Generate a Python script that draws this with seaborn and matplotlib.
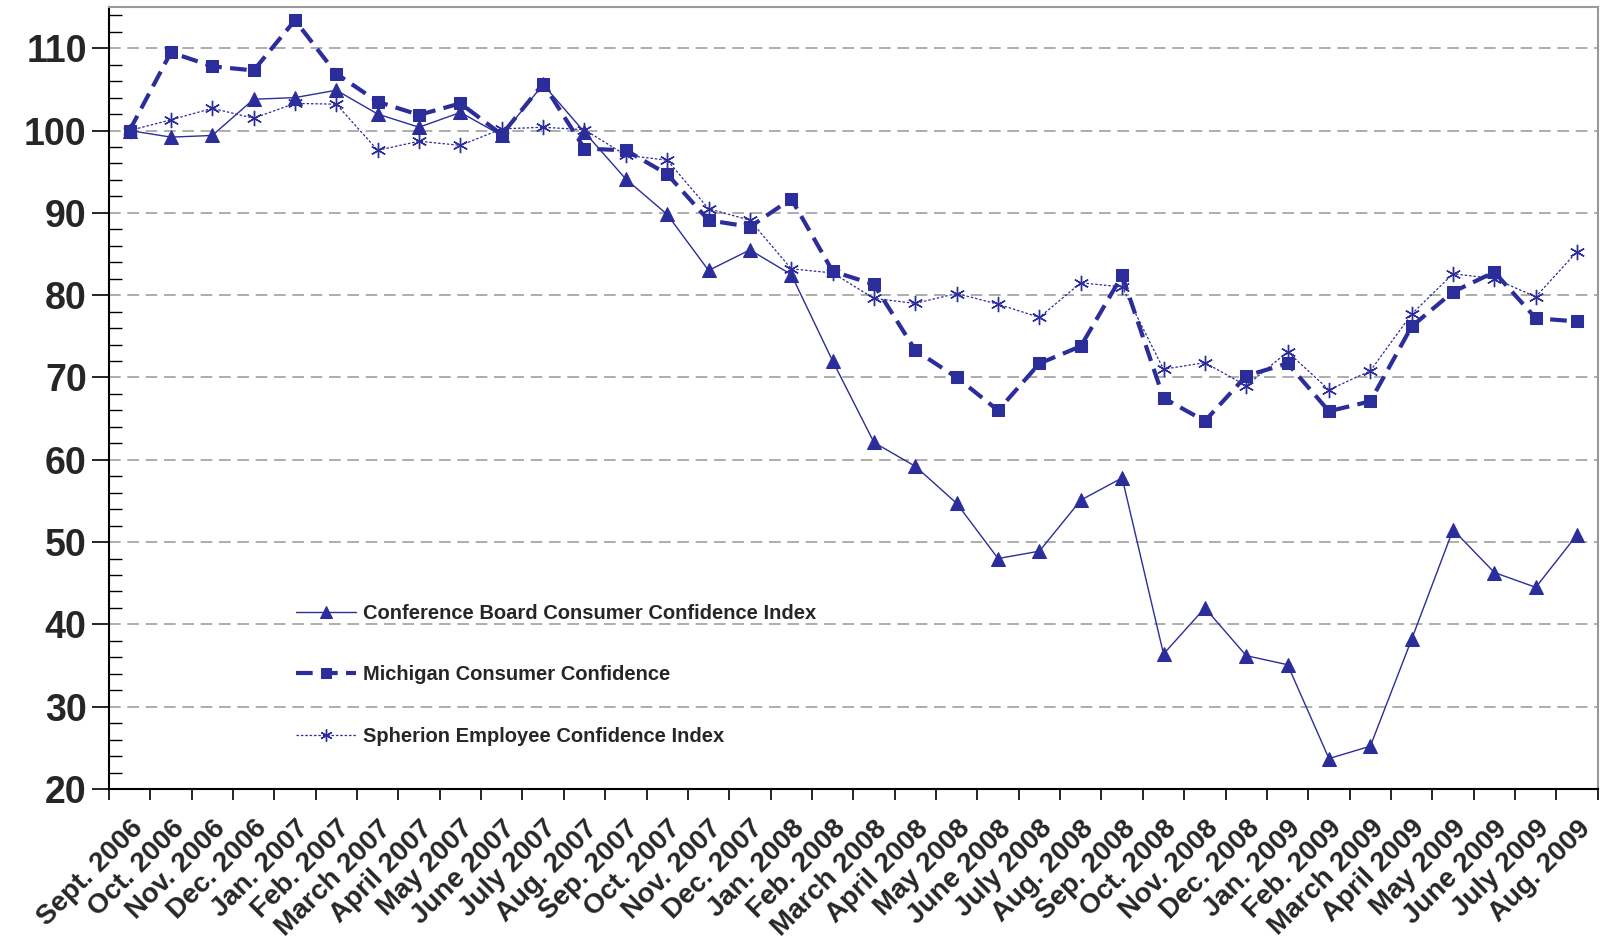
import matplotlib
matplotlib.use("Agg")
import matplotlib.pyplot as plt
from matplotlib.ticker import FixedLocator, MultipleLocator, NullFormatter
import seaborn as sns
import numpy as np

months = [
    "Sept. 2006", "Oct. 2006", "Nov. 2006", "Dec. 2006", "Jan. 2007", "Feb. 2007",
    "March 2007", "April 2007", "May 2007", "June 2007", "July 2007", "Aug. 2007",
    "Sep. 2007", "Oct. 2007", "Nov. 2007", "Dec. 2007", "Jan. 2008", "Feb. 2008",
    "March 2008", "April 2008", "May 2008", "June 2008", "July 2008", "Aug. 2008",
    "Sep. 2008", "Oct. 2008", "Nov. 2008", "Dec. 2008", "Jan. 2009", "Feb. 2009",
    "March 2009", "April 2009", "May 2009", "June 2009", "July 2009", "Aug. 2009",
]

conference_board = [
    100.0, 99.2, 99.4, 103.8, 104.0, 104.9, 102.0, 100.4, 102.2, 99.4, 105.6, 99.8,
    94.1, 89.8, 83.0, 85.5, 82.5, 72.0, 62.1, 59.2, 54.7, 48.0, 48.9, 55.1,
    57.8, 36.4, 42.0, 36.2, 35.1, 23.7, 25.2, 38.2, 51.5, 46.3, 44.5, 50.9,
]

michigan = [
    100.0, 109.5, 107.8, 107.3, 113.4, 106.9, 103.5, 101.9, 103.3, 99.5, 105.7, 97.8,
    97.6, 94.7, 89.1, 88.3, 91.7, 82.9, 81.3, 73.3, 70.0, 66.0, 71.7, 73.8,
    82.4, 67.5, 64.7, 70.2, 71.7, 65.9, 67.1, 76.2, 80.4, 82.8, 77.2, 76.8,
]

spherion = [
    100.0, 101.3, 102.7, 101.5, 103.3, 103.2, 97.6, 98.7, 98.2, 100.2, 100.4, 100.1,
    97.0, 96.4, 90.5, 89.1, 83.2, 82.7, 79.6, 79.0, 80.2, 78.9, 77.3, 81.5,
    81.0, 71.0, 71.8, 69.0, 73.1, 68.5, 70.8, 77.7, 82.6, 82.0, 79.8, 85.3,
]

series_names = [
    "Conference Board Consumer Confidence Index",
    "Michigan Consumer Confidence",
    "Spherion Employee Confidence Index",
]

sns.set_theme(style="white")
plt.rcParams["font.family"] = ["Liberation Sans", "DejaVu Sans"]

blue = "#2b2d9b"
fig = plt.figure(figsize=(16.01, 9.43), dpi=100)
ax = fig.add_axes([0.068, 0.1633, 0.930, 0.8292])

x = np.arange(len(months))

sns.lineplot(x=x, y=conference_board, ax=ax, color=blue, linewidth=1.0,
             linestyle="-", marker="^", markersize=10, markeredgecolor=blue,
             markerfacecolor=blue, label=series_names[0], sort=False)
sns.lineplot(x=x, y=michigan, ax=ax, color=blue, linewidth=3.0,
             dashes=False, marker="s", markersize=9, markeredgecolor=blue,
             markerfacecolor=blue, label=series_names[1], sort=False)
sns.lineplot(x=x, y=spherion, ax=ax, color=blue, linewidth=0.9,
             dashes=False, marker=(6, 2, 0), markersize=11, markeredgecolor=blue,
             markeredgewidth=1.0, label=series_names[2], sort=False)

lines = ax.get_lines()
lines[1].set_dashes([4, 2])
lines[2].set_dashes([2, 1.5])

ax.set_xlim(-0.5, len(months) - 0.5)
ax.set_ylim(20, 115)

# Category ticks sit between months; labels sit at month centres
ax.xaxis.set_major_locator(FixedLocator(np.arange(-0.5, len(months), 1.0)))
ax.xaxis.set_major_formatter(NullFormatter())
ax.xaxis.set_minor_locator(FixedLocator(x))
ax.set_xticklabels(months, minor=True, rotation=45, ha="right",
                   rotation_mode="anchor", fontsize=20, fontweight="bold")
ax.tick_params(axis="x", which="major", direction="out", length=8, width=1.2,
               color="black", bottom=True)
ax.tick_params(axis="x", which="minor", length=0, pad=19)

ax.yaxis.set_major_locator(MultipleLocator(10))
ax.yaxis.set_minor_locator(MultipleLocator(2))
ax.set_yticks(np.arange(20, 111, 10))
ax.set_yticklabels([str(v) for v in range(20, 111, 10)], fontsize=27,
                   fontweight="bold")
ax.tick_params(axis="y", which="major", direction="out", length=12, width=1.2,
               color="black", left=True, pad=4)
ax.tick_params(axis="y", which="minor", direction="in", length=9, width=1.0,
               color="black", left=True)

ax.yaxis.grid(True, which="major", color="#a0a0a0", linewidth=1.2,
              linestyle=(0, (7, 4)))
ax.xaxis.grid(False)
ax.set_axisbelow(True)

for side in ("left", "bottom"):
    ax.spines[side].set_color("black")
    ax.spines[side].set_linewidth(1.5)
for side in ("top", "right"):
    ax.spines[side].set_color("#999999")
    ax.spines[side].set_linewidth(1.5)

ax.set_xlabel("")
ax.set_ylabel("")

leg = ax.legend(loc="upper left", bbox_to_anchor=(296 / 1601, 1 - 604 / 943),
                bbox_transform=fig.transFigure, frameon=False,
                prop={"weight": "bold", "size": 14.5}, handlelength=3.0,
                handletextpad=0.35, labelspacing=2.1, borderpad=0,
                borderaxespad=0, markerscale=0.8)

fig.savefig("out.png", dpi=100)
